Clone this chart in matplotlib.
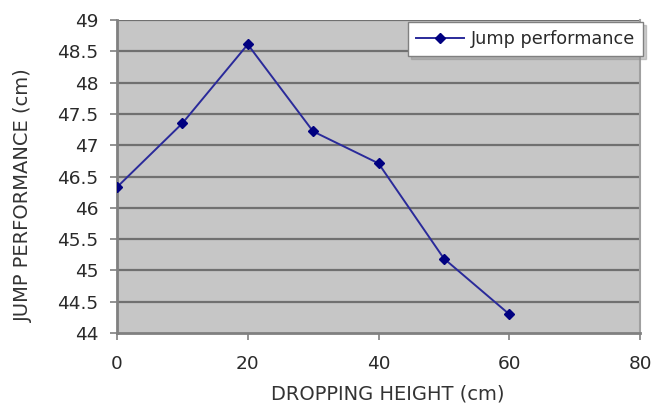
import matplotlib
matplotlib.use("Agg")
import matplotlib.pyplot as plt

heights = [0, 10, 20, 30, 40, 50, 60]
jump = [46.33, 47.35, 48.61, 47.22, 46.71, 45.19, 44.30]
xticks = [0, 20, 40, 60, 80]
yticks = [44, 44.5, 45, 45.5, 46, 46.5, 47, 47.5, 48, 48.5, 49]
ytick_labels = ["44", "44.5", "45", "45.5", "46", "46.5", "47", "47.5", "48", "48.5", "49"]

plt.rcParams['font.family'] = ['DejaVu Sans']

fig = plt.figure(figsize=(6.67, 4.08), dpi=100)
ax = fig.add_axes([117/667, 1-333/408, (640-117)/667, (333-20)/408])
ax.set_facecolor('#C6C6C6')

for y in yticks[1:]:
    ax.axhline(y, color='#707070', lw=1.6, zorder=1)

ax.plot(heights, jump, color='#2a2a9a', lw=1.4, marker='D', ms=5,
        markerfacecolor='#000080', markeredgecolor='#000080', zorder=3,
        label='Jump performance')

ax.set_xlim(0, 80)
ax.set_ylim(44, 49)
ax.set_xticks(xticks)
ax.set_yticks(yticks)
ax.set_yticklabels(ytick_labels)
ax.tick_params(axis='both', labelsize=13.3, colors='#808080', labelcolor='#2a2a2a',
               length=5, width=1.2)
ax.tick_params(axis='y', pad=8.5)
ax.tick_params(axis='x', pad=11)

for s in ['left', 'bottom']:
    ax.spines[s].set_color('#808080')
    ax.spines[s].set_linewidth(2)
ax.spines['right'].set_color('#a0a0a0')
ax.spines['right'].set_linewidth(1.5)
ax.spines['top'].set_visible(False)

ax.set_xlabel('DROPPING HEIGHT (cm)', fontsize=14, color='#333333')
ax.set_ylabel('JUMP PERFORMANCE (cm)', fontsize=14, color='#333333')
ax.xaxis.set_label_coords(0.518, -0.163)
ax.yaxis.set_label_coords(-0.16, 0.441)

leg = ax.legend(loc='upper right', bbox_to_anchor=(1.0057, 0.9936), borderaxespad=0,
                fontsize=12.7, frameon=True, fancybox=False,
                shadow={'color': '#909090', 'alpha': 0.45, 'ox': 2, 'oy': -2},
                borderpad=0.45, handlelength=2.7, handletextpad=0.4,
                edgecolor='#808080', framealpha=1)
leg.get_frame().set_linewidth(1)
for t in leg.get_texts():
    t.set_color('#2a2a2a')

fig.savefig('out.png', dpi=100, facecolor='white')
